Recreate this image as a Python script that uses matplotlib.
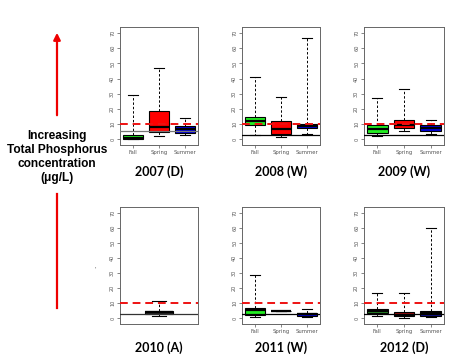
import matplotlib
matplotlib.use("Agg")
import matplotlib.pyplot as plt
from matplotlib.patches import FancyArrowPatch

# ---------------- data ----------------
years = ["2007 (D)", "2008 (W)", "2009 (W)", "2010 (A)", "2011 (W)", "2012 (D)"]
seasons = ["Fall", "Spring", "Summer"]
# five-number summaries [low whisker, q1, median, q3, high whisker]
stats_2007 = [[0, 0.2, 0.5, 3, 29], [2, 5, 8, 18.5, 47], [2.5, 4, 6.5, 8.5, 14]]
stats_2008 = [[3, 9.5, 11.7, 14.5, 41], [1.3, 3.3, 6.8, 12, 28], [3.5, 7.7, 9, 10.1, 67]]
stats_2009 = [[2, 4.4, 6.8, 9.2, 27], [5.3, 7.7, 9.6, 13, 33], [3.7, 5.5, 7.7, 9.2, 12.5]]
stats_2010 = [[1.5, 3.1, 4.2, 4.8, 11.8]]
stats_2011 = [[0.9, 2, 5.3, 6.6, 29], [5, 5, 5, 5, 5], [0.9, 1.5, 2.6, 3.7, 6.4]]
stats_2012 = [[1.8, 3.5, 4.8, 6.2, 17], [0.2, 1.3, 2.4, 4, 17], [1, 1.8, 3.5, 5, 60]]
all_stats = [stats_2007, stats_2008, stats_2009, stats_2010, stats_2011, stats_2012]
reference_line = [5.5, 3, 3, 3, 3, 3]
threshold = 10

bright = ["#22ee22", "#ff0000", "#0000dd"]
dark = ["#2a8a2a", "#b01010", "#101090"]
box_colors = [bright, bright, bright, ["#222222"], bright, dark]
ref_colors = ["#777777", "black", "black", "#333333", "black", "black"]

# ---------------- layout ----------------
W, H = 458, 360
fig = plt.figure(figsize=(W / 100, H / 100), dpi=100)
fig.patch.set_facecolor("white")

cols = [(120, 198), (242, 320), (364, 444)]
rows = [(27, 145), (207, 324)]
title_y = [172, 348]

for i, (yr, st) in enumerate(zip(years, all_stats)):
    r, c = divmod(i, 3)
    x0, x1 = cols[c]
    y0, y1 = rows[r]
    ax = fig.add_axes([x0 / W, 1 - y1 / H, (x1 - x0) / W, (y1 - y0) / H])
    bxp_stats = []
    for s in st:
        bxp_stats.append(dict(whislo=s[0], q1=s[1], med=s[2], q3=s[3], whishi=s[4], fliers=[]))
    if len(st) == 1:
        positions = [2]
        widths = 1.08
    else:
        positions = [1, 2, 3]
        widths = 0.77
    b = ax.bxp(bxp_stats, positions=positions, widths=widths, patch_artist=True,
               showfliers=False,
               boxprops=dict(edgecolor="black", linewidth=0.8),
               medianprops=dict(color="black", linewidth=1.6),
               whiskerprops=dict(color="black", linewidth=0.7, linestyle=(0, (2.5, 2))),
               capprops=dict(color="black", linewidth=0.8),
               capwidths=widths * 0.5)
    for patch, col in zip(b["boxes"], box_colors[i]):
        patch.set_facecolor(col)
    ax.axhline(threshold, color="#ee1111", linewidth=1.4, linestyle=(0, (4, 2.5)), zorder=3)
    ax.axhline(reference_line[i], color=ref_colors[i], linewidth=0.9, zorder=3)
    ax.set_xlim(0.5, 3.5)
    ax.set_ylim(-3.8, 74)
    ax.set_yticks(range(0, 71, 10))
    ax.set_yticklabels([str(v) for v in range(0, 71, 10)], rotation=90, va="center",
                       fontsize=3.6, color="#444444")
    if len(st) == 1:
        ax.set_xticks([])
    else:
        ax.set_xticks([1, 2, 3])
        ax.set_xticklabels(seasons, fontsize=3.8, color="#333333")
    ax.tick_params(axis="both", length=2, width=0.5, pad=1.5, colors="#555555")
    for sp in ax.spines.values():
        sp.set_color("#666666")
        sp.set_linewidth(0.7)
    fig.text((x0 + x1) / 2 / W, 1 - title_y[r] / H, yr, ha="center", va="center",
             fontsize=9, fontweight="bold", family="Lato")

# stray mark in 2010 panel
fig.text(95 / W, 1 - 269 / H, "'", fontsize=4, color="#555555", ha="center", va="center")

# left annotation
fig.text(57 / W, 1 - 157 / H, "Increasing\nTotal Phosphorus\nconcentration\n(\u03bcg/L)",
         ha="center", va="center", fontsize=8.6, fontweight="bold",
         family="Liberation Sans", linespacing=1.2)
fig.add_artist(plt.Line2D([57 / W, 57 / W], [1 - 308 / H, 1 - 194 / H],
                          color="#ee0000", linewidth=1.6, transform=fig.transFigure))
arr = FancyArrowPatch((57 / W, 1 - 118 / H), (57 / W, 1 - 30 / H),
                      transform=fig.transFigure, arrowstyle="-|>,head_length=4,head_width=2",
                      color="#ee0000", linewidth=1.6, mutation_scale=1)
fig.add_artist(arr)

fig.savefig("out.png", dpi=100, facecolor="white")
